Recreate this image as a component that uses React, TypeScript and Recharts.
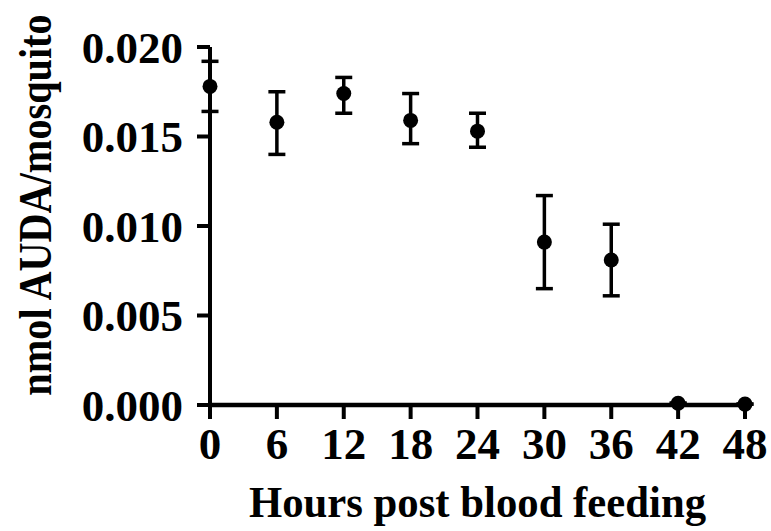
import React from "react";
import {
  ScatterChart,
  Scatter,
  XAxis,
  YAxis,
  ErrorBar,
  Label,
} from "recharts";

// hours post blood feeding
const hours = [0, 6, 12, 18, 24, 30, 36, 42, 48];
// nmol AUDA per mosquito (mean)
const amounts = [0.0178, 0.0158, 0.0174, 0.0159, 0.0153, 0.0091, 0.0081, 0.0001, 0.00005];
// error bar ends
const upper = [0.0192, 0.0175, 0.0183, 0.0174, 0.0163, 0.0117, 0.0101, 0.0001, 0.00005];
const lower = [0.0164, 0.014, 0.0163, 0.0146, 0.0144, 0.0065, 0.0061, 0.0001, 0.00005];

const xTicks = [0, 6, 12, 18, 24, 30, 36, 42, 48];
const yTicks = [0, 0.005, 0.01, 0.015, 0.02];

const data = hours.map((h, i) => ({
  hour: h,
  amount: amounts[i],
  err: [amounts[i] - lower[i], upper[i] - amounts[i]],
}));

const FONT = "'Liberation Serif', 'Times New Roman', serif";

const tickStyle = {
  fontFamily: FONT,
  fontWeight: 700,
  fontSize: 45,
  fill: "#000",
};

const Dot = (props: any) => <circle cx={props.cx} cy={props.cy} r={7.5} fill="#000" />;

// the original titles use a condensed serif, so squeeze Liberation Serif horizontally
const XTitle = (props: any) => {
  const vb = props.viewBox || { x: 0, y: 0, width: 0 };
  const cx = vb.x + vb.width / 2;
  const cy = vb.y + 112;
  return (
    <text
      x={0}
      y={0}
      textAnchor="middle"
      transform={`translate(${cx}, ${cy}) scale(0.95, 1)`}
      style={{ fontFamily: FONT, fontWeight: 700, fontSize: 45, fill: "#000" }}
    >
      Hours post blood feeding
    </text>
  );
};

const YTitle = (props: any) => {
  const vb = props.viewBox || { x: 0, y: 0, height: 0 };
  const cx = vb.x + 51;
  const cy = vb.y + vb.height / 2 - 21;
  return (
    <text
      x={0}
      y={0}
      textAnchor="middle"
      transform={`translate(${cx}, ${cy}) rotate(-90) scale(0.875, 1)`}
      style={{ fontFamily: FONT, fontWeight: 700, fontSize: 46, fill: "#000" }}
    >
      nmol AUDA/mosquito
    </text>
  );
};

export default function App() {
  return (
    <div style={{ position: "absolute", left: 0, top: 0, background: "#fff" }}>
      <ScatterChart
        width={771}
        height={531}
        margin={{ top: 47, right: 26, bottom: 0, left: 0 }}
      >
        <XAxis
          type="number"
          dataKey="hour"
          domain={[0, 48]}
          ticks={xTicks}
          interval={0}
          height={126}
          tick={tickStyle}
          tickSize={14}
          tickMargin={8}
          axisLine={{ stroke: "#000", strokeWidth: 4.5 }}
          tickLine={{ stroke: "#000", strokeWidth: 4 }}
        >
          <Label content={<XTitle />} />
        </XAxis>
        <YAxis
          type="number"
          dataKey="amount"
          domain={[0, 0.02]}
          ticks={yTicks}
          interval={0}
          width={210}
          tick={tickStyle}
          tickSize={13}
          tickMargin={14}
          tickFormatter={(v: number) => v.toFixed(3)}
          axisLine={{ stroke: "#000", strokeWidth: 4 }}
          tickLine={{ stroke: "#000", strokeWidth: 4 }}
        >
          <Label content={<YTitle />} />
        </YAxis>
        <Scatter data={data} shape={<Dot />} isAnimationActive={false}>
          <ErrorBar
            dataKey="err"
            direction="y"
            width={8.5}
            stroke="#000"
            strokeWidth={3.5}
            isAnimationActive={false}
          />
        </Scatter>
      </ScatterChart>
    </div>
  );
}
